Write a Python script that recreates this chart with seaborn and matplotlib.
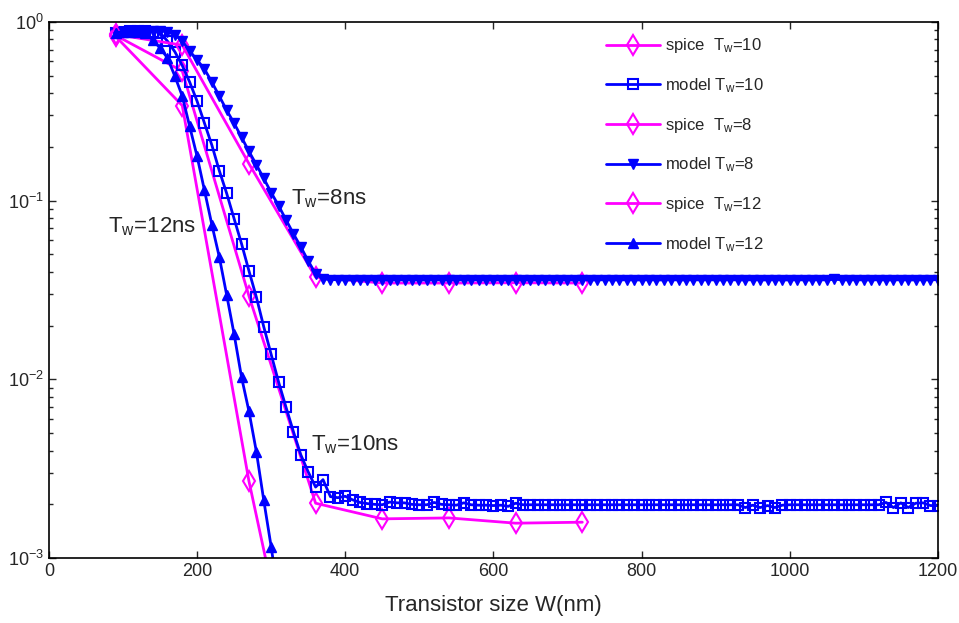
import matplotlib
matplotlib.use("Agg")
import matplotlib.pyplot as plt
import seaborn as sns

# spice runs (coarse grid)
W_spice = [90, 180, 270, 360, 450, 540, 630, 720]
spice_tw10 = [0.84, 0.53, 0.0293, 0.00203, 0.00166, 0.00168, 0.00157, 0.00159]
spice_tw8 = [0.85, 0.74, 0.161, 0.0373, 0.0346, 0.0346, 0.0347, 0.0346]
W_spice12 = [90, 180, 270, 360]
spice_tw12 = [0.83, 0.34, 0.0027, 0.00005]

# model runs (10 nm grid)
W_model = list(range(90, 1201, 10))
model_tw10 = [
    0.87, 0.88, 0.89, 0.89, 0.89, 0.88, 0.87, 0.78, 0.68, 0.57,
    0.460, 0.360, 0.271, 0.204, 0.147, 0.1096, 0.0792, 0.0574, 0.0405, 0.0289,
    0.0197, 0.0138, 0.00968, 0.00700, 0.00511, 0.00379, 0.00304, 0.00250, 0.00275,
    0.00221, 0.00218, 0.00222, 0.00212, 0.00205, 0.00202, 0.00200, 0.00199, 0.00206, 0.00204,
    0.00204, 0.00200, 0.00199, 0.00199, 0.00205, 0.00200, 0.00199, 0.00198, 0.00204, 0.00199,
    0.00198, 0.00198, 0.00197, 0.00198, 0.00195, 0.00203, 0.00199, 0.00199, 0.00199, 0.00199,
    0.00199, 0.00199, 0.00199, 0.00199, 0.00199, 0.00199, 0.00199, 0.00199, 0.00199, 0.00199,
    0.00199, 0.00199, 0.00199, 0.00199, 0.00199, 0.00199, 0.00199, 0.00199, 0.00199, 0.00199,
    0.00199, 0.00199, 0.00199, 0.00199, 0.00199, 0.00199, 0.00192, 0.00198, 0.00192, 0.00197,
    0.00192, 0.00198, 0.00199, 0.00199, 0.00199, 0.00199, 0.00199, 0.00199, 0.00199, 0.00199,
    0.00199, 0.00199, 0.00199, 0.00199, 0.00199, 0.00205, 0.00192, 0.00204, 0.00192, 0.00203,
    0.00204, 0.00197, 0.00197,
]
model_tw8 = [
    0.87, 0.88, 0.89, 0.89, 0.89, 0.89, 0.89, 0.879, 0.845, 0.782,
    0.687, 0.612, 0.544, 0.460, 0.384, 0.320, 0.271, 0.226, 0.1885, 0.159,
    0.133, 0.111, 0.0937, 0.0782, 0.0653, 0.0551, 0.0460, 0.0390, 0.0365,
    0.0362, 0.0361, 0.0360, 0.0361, 0.0360, 0.0360, 0.0361, 0.0360, 0.0360, 0.0361,
    0.0360, 0.0361, 0.0360, 0.0360, 0.0361, 0.0360, 0.0360, 0.0361, 0.0360, 0.0360,
    0.0361, 0.0360, 0.0360, 0.0361, 0.0360, 0.0360, 0.0361, 0.0360, 0.0360, 0.0361,
    0.0360, 0.0361, 0.0360, 0.0360, 0.0361, 0.0360, 0.0360, 0.0361, 0.0360, 0.0360,
    0.0361, 0.0360, 0.0360, 0.0361, 0.0360, 0.0360, 0.0361, 0.0360, 0.0360, 0.0361,
    0.0360, 0.0361, 0.0360, 0.0360, 0.0361, 0.0360, 0.0360, 0.0361, 0.0360, 0.0360,
    0.0361, 0.0360, 0.0360, 0.0361, 0.0360, 0.0360, 0.0361, 0.0360, 0.0363, 0.0361,
    0.0360, 0.0361, 0.0360, 0.0360, 0.0361, 0.0360, 0.0360, 0.0361, 0.0360, 0.0360,
    0.0361, 0.0360, 0.0362,
]
W_model12 = list(range(90, 311, 10))
model_tw12 = [
    0.87, 0.88, 0.88, 0.88, 0.87, 0.792, 0.714, 0.628, 0.497, 0.384,
    0.260, 0.177, 0.114, 0.0732, 0.0484, 0.0296, 0.0179, 0.0103, 0.00664, 0.00395,
    0.00211, 0.00116, 0.0006,
]

magenta = (1, 0, 1)
blue = (0, 0, 1)

sns.set_style("ticks")
plt.rcParams['font.family'] = ['Liberation Sans', 'DejaVu Sans']
plt.rcParams['mathtext.fontset'] = 'custom'
plt.rcParams['mathtext.rm'] = 'Liberation Sans'
plt.rcParams['mathtext.it'] = 'Liberation Sans'

fig = plt.figure(figsize=(9.59, 6.23), dpi=100)
ax = fig.add_axes([0.051, 0.104, 0.927, 0.861])

spice_kw = dict(color=magenta, marker='d', markersize=10, markerfacecolor='none',
                markeredgecolor=magenta, markeredgewidth=1.5, linewidth=2)
sq_kw = dict(color=blue, marker='s', markersize=6.5, markerfacecolor='none',
             markeredgecolor=blue, markeredgewidth=1.5, linewidth=2)
dn_kw = dict(color=blue, marker='v', markersize=7, markerfacecolor=blue,
             markeredgecolor=blue, markeredgewidth=1, linewidth=2)
up_kw = dict(color=blue, marker='^', markersize=7, markerfacecolor=blue,
             markeredgecolor=blue, markeredgewidth=1, linewidth=2)

sns.lineplot(x=W_spice, y=spice_tw10, ax=ax, label=r'spice  $\mathrm{T_w}$=10', **spice_kw)
sns.lineplot(x=W_model, y=model_tw10, ax=ax, label=r'model $\mathrm{T_w}$=10', **sq_kw)
sns.lineplot(x=W_spice, y=spice_tw8, ax=ax, label=r'spice  $\mathrm{T_w}$=8', **spice_kw)
sns.lineplot(x=W_model, y=model_tw8, ax=ax, label=r'model $\mathrm{T_w}$=8', **dn_kw)
sns.lineplot(x=W_spice12, y=spice_tw12, ax=ax, label=r'spice  $\mathrm{T_w}$=12', **spice_kw)
sns.lineplot(x=W_model12, y=model_tw12, ax=ax, label=r'model $\mathrm{T_w}$=12', **up_kw)

ax.set_yscale('log')
ax.set_xlim(0, 1200)
ax.set_ylim(1e-3, 1)
ax.set_xticks([0, 200, 400, 600, 800, 1000, 1200])
ax.set_xlabel('Transistor size W(nm)', fontsize=16, labelpad=11)
ax.set_ylabel('')
ax.tick_params(axis='both', which='both', direction='in', top=True, right=True, labelsize=13)
ax.tick_params(which='major', length=5, width=1)
ax.tick_params(which='minor', length=3, width=1)
ax.tick_params(axis='x', which='minor', bottom=False, top=False)
for s in ax.spines.values():
    s.set_linewidth(1.2)
    s.set_color('black')

ax.text(80, 0.0714, r'$\mathrm{T_w}$=12ns', fontsize=16, va='center')
ax.text(327, 0.1026, r'$\mathrm{T_w}$=8ns', fontsize=16, va='center')
ax.text(354, 0.00431, r'$\mathrm{T_w}$=10ns', fontsize=16, va='center')

ax.legend(loc='upper left', bbox_to_anchor=(598 / 959, 1 - 28 / 623),
          bbox_transform=fig.transFigure, frameon=False, fontsize=12,
          labelspacing=1.25, handlelength=3.2, handletextpad=0.3, borderpad=0)

fig.savefig('out.png', dpi=100)
